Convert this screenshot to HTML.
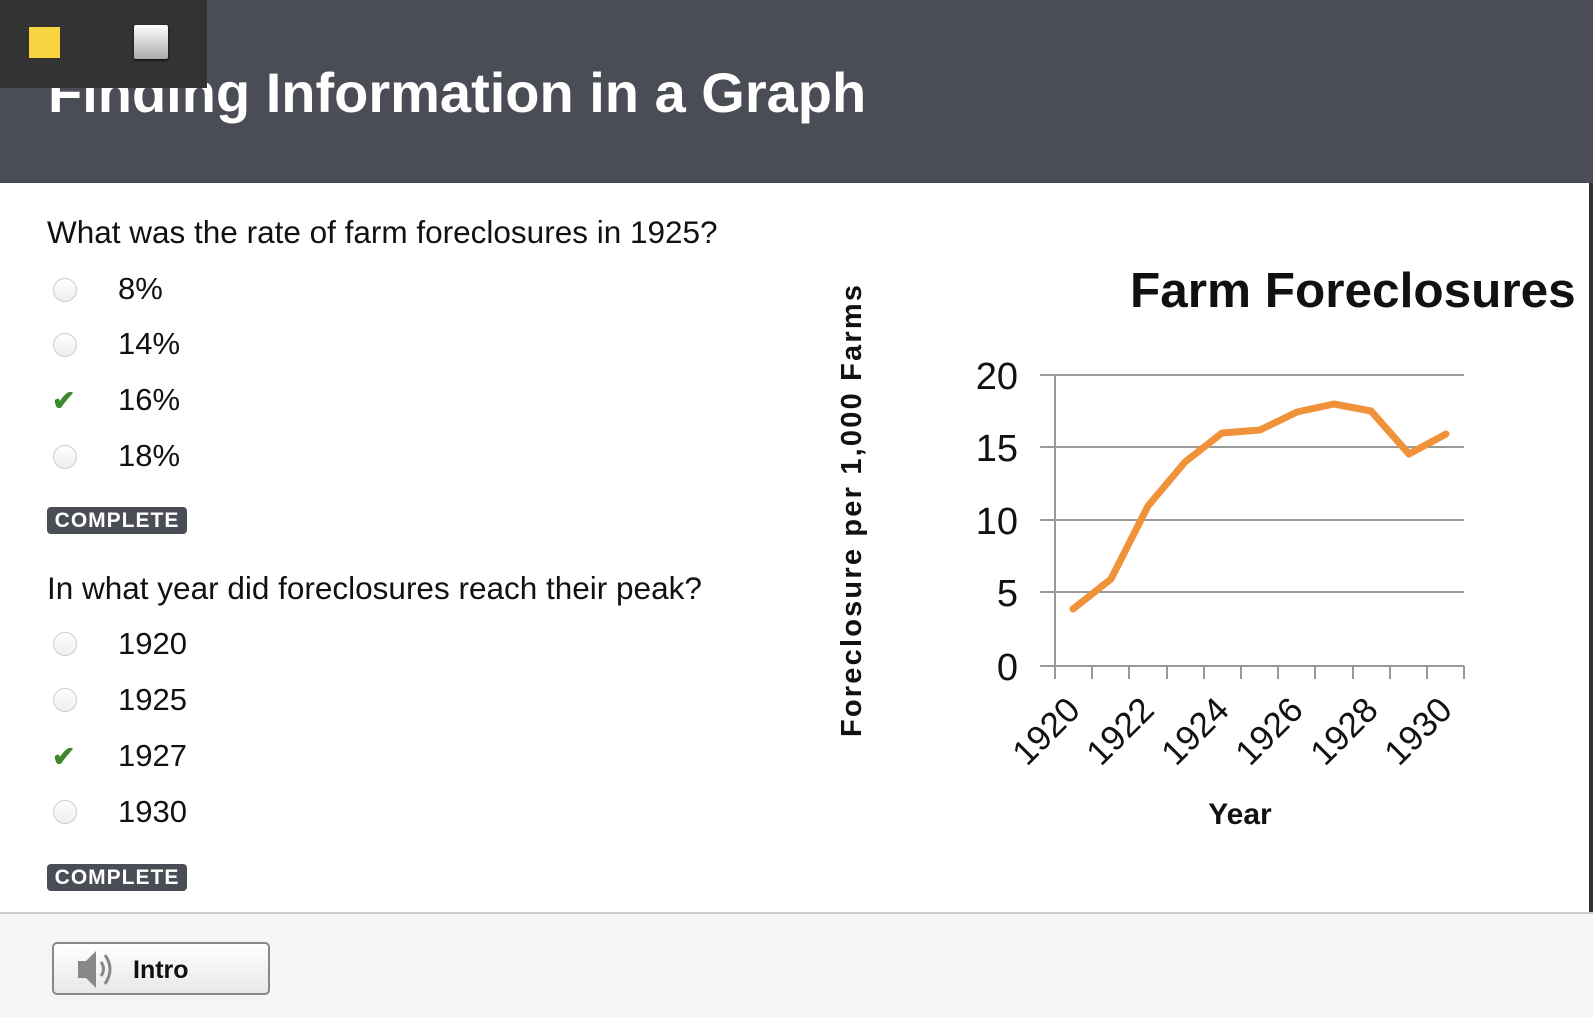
<!DOCTYPE html>
<html><head><meta charset="utf-8"><style>
body{margin:0;width:1593px;height:1015px;overflow:hidden;background:#fff;font-family:"Liberation Sans",Arial,sans-serif;position:relative}
.hdr{position:absolute;left:0;top:0;width:1593px;height:183px;background:#4a4d55}
.title{position:absolute;left:48px;top:60px;color:#fff;font-weight:bold;font-size:56px;white-space:nowrap}
.tb{position:absolute;left:0;top:0;width:207px;height:88px;background:#333}
.q{position:absolute;left:47px;font-size:31.5px;color:#111;white-space:nowrap}
.opt{position:absolute;left:118px;font-size:31px;color:#111}
.rad{position:absolute;left:53px;width:22px;height:22px;border-radius:50%;border:1px solid #ccc;background:linear-gradient(#fff,#eee)}
.chk{position:absolute;left:52px;font-size:28px;color:#3d8a2e;font-weight:bold}
.badge{position:absolute;left:47px;width:140px;height:27px;background:#4a4d55;border-radius:4px;color:#fff;font-weight:bold;font-size:21px;text-align:center;line-height:28px;letter-spacing:1px}
.foot{position:absolute;left:0;top:912px;width:1593px;height:103px;background:#f5f5f5;border-top:2px solid #ccc}
.btn{position:absolute;left:52px;top:942px;width:218px;height:53px;border:2px solid #888;border-radius:5px;background:linear-gradient(#fff,#e8e8e8);box-sizing:border-box}
</style></head><body>
<div class="hdr"></div>
<div class="title">Finding Information in a Graph</div>
<div class="tb"></div>
<div style="position:absolute;left:29px;top:27px;width:31px;height:31px;background:#f8d442"></div>
<div style="position:absolute;left:134px;top:25px;width:34px;height:34px;background:linear-gradient(#fff,#aaa);border-radius:2px;box-shadow:0 1px 2px #000"></div>
<div style="position:absolute;left:1589px;top:183px;width:4px;height:832px;background:#333"></div>

<div class="q" style="top:214px">What was the rate of farm foreclosures in 1925?</div>
<div class="rad" style="top:278px"></div><div class="opt" style="top:271px">8%</div>
<div class="rad" style="top:333px"></div><div class="opt" style="top:326px">14%</div>
<div class="chk" style="top:384px">✔</div><div class="opt" style="top:382px">16%</div>
<div class="rad" style="top:445px"></div><div class="opt" style="top:438px">18%</div>
<div class="badge" style="top:507px">COMPLETE</div>

<div class="q" style="top:570px">In what year did foreclosures reach their peak?</div>
<div class="rad" style="top:632px"></div><div class="opt" style="top:626px">1920</div>
<div class="rad" style="top:688px"></div><div class="opt" style="top:682px">1925</div>
<div class="chk" style="top:740px">✔</div><div class="opt" style="top:738px">1927</div>
<div class="rad" style="top:800px"></div><div class="opt" style="top:794px">1930</div>
<div class="badge" style="top:864px">COMPLETE</div>

<div class="foot"></div>
<div class="btn"><svg width="60" height="50" style="position:absolute;left:20px;top:0"><polygon points="4,17 12,17 22,7 22,44 12,34 4,34" fill="#888"/><path d="M27,18 Q32,25 27,32" stroke="#888" stroke-width="3" fill="none"/><path d="M31,11 Q41,25 31,40" stroke="#888" stroke-width="3" fill="none"/></svg><span style="position:absolute;left:79px;top:12px;font-weight:bold;font-size:25px;color:#111">Intro</span></div>

<svg width="1593" height="1015" style="position:absolute;left:0;top:0">
<text x="1130" y="307" font-family="Liberation Sans" font-weight="bold" font-size="49.5" fill="#111">Farm Foreclosures</text>
<text transform="translate(861,511) rotate(-90)" text-anchor="middle" font-family="Liberation Sans" font-weight="bold" font-size="29" fill="#111" textLength="452">Foreclosure per 1,000 Farms</text>
<g stroke="#999" stroke-width="2">
<line x1="1040" y1="375" x2="1464" y2="375"/><line x1="1040" y1="447" x2="1464" y2="447"/><line x1="1040" y1="520" x2="1464" y2="520"/><line x1="1040" y1="592" x2="1464" y2="592"/><line x1="1040" y1="666" x2="1464" y2="666"/>
<line x1="1055" y1="375" x2="1055" y2="679"/>
<line x1="1055" y1="666" x2="1055" y2="679"/><line x1="1092" y1="666" x2="1092" y2="679"/><line x1="1129" y1="666" x2="1129" y2="679"/><line x1="1167" y1="666" x2="1167" y2="679"/><line x1="1204" y1="666" x2="1204" y2="679"/><line x1="1241" y1="666" x2="1241" y2="679"/><line x1="1278" y1="666" x2="1278" y2="679"/><line x1="1315" y1="666" x2="1315" y2="679"/><line x1="1353" y1="666" x2="1353" y2="679"/><line x1="1390" y1="666" x2="1390" y2="679"/><line x1="1427" y1="666" x2="1427" y2="679"/><line x1="1464" y1="666" x2="1464" y2="679"/>
</g>
<g font-family="Liberation Sans" font-size="38" fill="#111" text-anchor="end">
<text x="1018" y="389">20</text><text x="1018" y="461">15</text><text x="1018" y="534">10</text><text x="1018" y="606">5</text><text x="1018" y="680">0</text>
</g>
<g font-family="Liberation Sans" font-size="35" fill="#111" text-anchor="end">
<text transform="translate(1082,712) rotate(-45)">1920</text>
<text transform="translate(1156,712) rotate(-45)">1922</text>
<text transform="translate(1231,712) rotate(-45)">1924</text>
<text transform="translate(1305,712) rotate(-45)">1926</text>
<text transform="translate(1380,712) rotate(-45)">1928</text>
<text transform="translate(1454,712) rotate(-45)">1930</text>
</g>
<text x="1240" y="824" text-anchor="middle" font-family="Liberation Sans" font-weight="bold" font-size="30" fill="#111">Year</text>
<polyline fill="none" stroke="#f0923a" stroke-width="7" stroke-linejoin="round" stroke-linecap="round"
points="1073,609 1111,579 1148,506 1185,462 1222,433 1260,430 1297,412 1334,404 1371,411 1409,454 1446,434"/>
</svg>
</body></html>
